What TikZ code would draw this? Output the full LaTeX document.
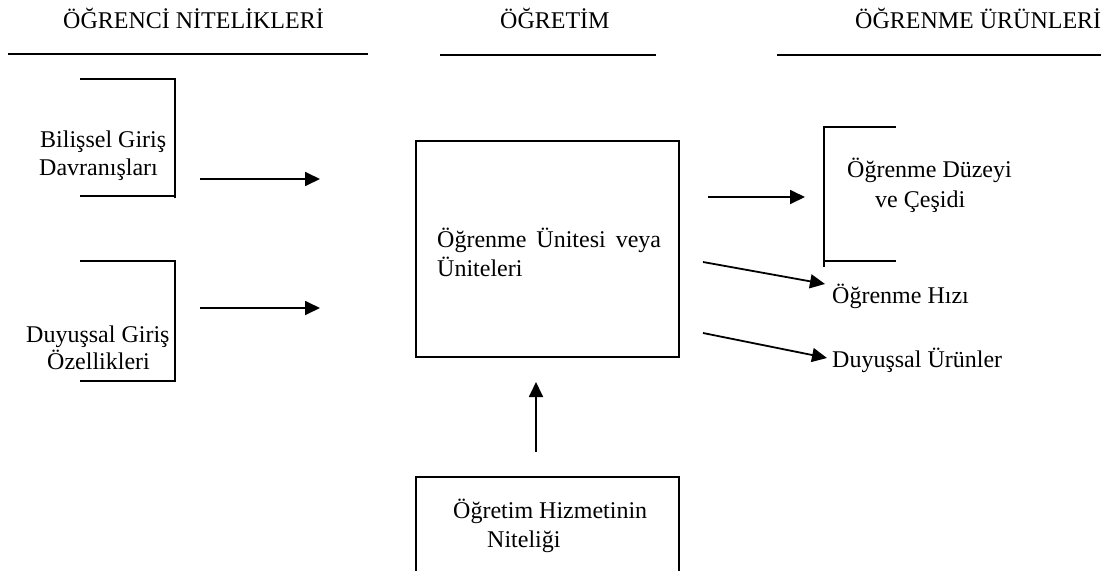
\documentclass[tikz,border=0pt]{standalone}
\usepackage{fontspec}
\setmainfont{Liberation Serif}
\usetikzlibrary{arrows.meta}
\begin{document}
\begin{tikzpicture}[x=1pt,y=-1pt,
  line/.style={line width=1.8pt},
  conn/.style={line width=1.8pt,-{Triangle[length=15pt,width=14pt]}},
  lbl/.style={anchor=base west,inner sep=0pt,font=\fontsize{24}{29}\selectfont},
  boxstyle/.style={draw,line width=1.8pt,inner sep=0pt}]
\useasboundingbox (0,0) rectangle (1101,571);
% headings
\node[lbl] (h1) at (63,28) {ÖĞRENCİ NİTELİKLERİ};
\node[lbl] (h2) at (500,28) {ÖĞRETİM};
\node[lbl] (h3) at (855,28) {ÖĞRENME ÜRÜNLERİ};
\draw[line] (8,54) -- (368,54);
\draw[line] (440,55) -- (656,55);
\draw[line] (777,55) -- (1101,55);
% left brackets
\draw[line] (80,79) -| (175,198);
\draw[line] (80,196) -- (175,196);
\node[lbl] (b1) at (40,147) {Bilişsel Giriş};
\node[lbl] (b2) at (39,175) {Davranışları};
\draw[line] (80,261) -| (175,382);
\draw[line] (80,381) -- (175,381);
\node[lbl] (d1) at (26,342) {Duyuşsal Giriş};
\node[lbl] (d2) at (47,369) {Özellikleri};
% central box
\node[boxstyle,minimum width=263pt,minimum height=216pt] (unit) at (547.5,249) {};
\node[lbl] (u1) at (437,247) {Öğrenme\hspace{10pt}Ünitesi\hspace{10pt}veya};
\node[lbl] (u2) at (437,276) {Üniteleri};
% right bracket
\draw[line] (896,127) -| (824,267);
\draw[line] (824,261) -- (896,261);
\node[lbl] (r1) at (847,177) {Öğrenme Düzeyi};
\node[lbl] (r2) at (875,207) {ve Çeşidi};
\node[lbl] (hiz) at (832,303) {Öğrenme Hızı};
\node[lbl] (duy) at (832,367) {Duyuşsal Ürünler};
% bottom box
\draw[line] (416,571) |- (679,477) -- (679,571);
\node[lbl] (q1) at (453,518) {Öğretim Hizmetinin};
\node[lbl] (q2) at (487,547) {Niteliği};
% arrow end points
\coordinate (a1s) at (200,179); \coordinate (a1e) at (320,179);
\coordinate (a2s) at (200,308); \coordinate (a2e) at (320,308);
\coordinate (a3s) at (708,197); \coordinate (a3e) at (805,197);
\coordinate (a4s) at (703,262); \coordinate (a4e) at (825,284);
\coordinate (a5s) at (703,333); \coordinate (a5e) at (827,358);
\coordinate (a6s) at (536,452); \coordinate (a6e) at (536,382);
\draw[conn] (a1s) -- (a1e);
\draw[conn] (a2s) -- (a2e);
\draw[conn] (a3s) -- (a3e);
\draw[conn] (a4s) -- (a4e);
\draw[conn] (a5s) -- (a5e);
\draw[conn] (a6s) -- (a6e);
\end{tikzpicture}
\end{document}
